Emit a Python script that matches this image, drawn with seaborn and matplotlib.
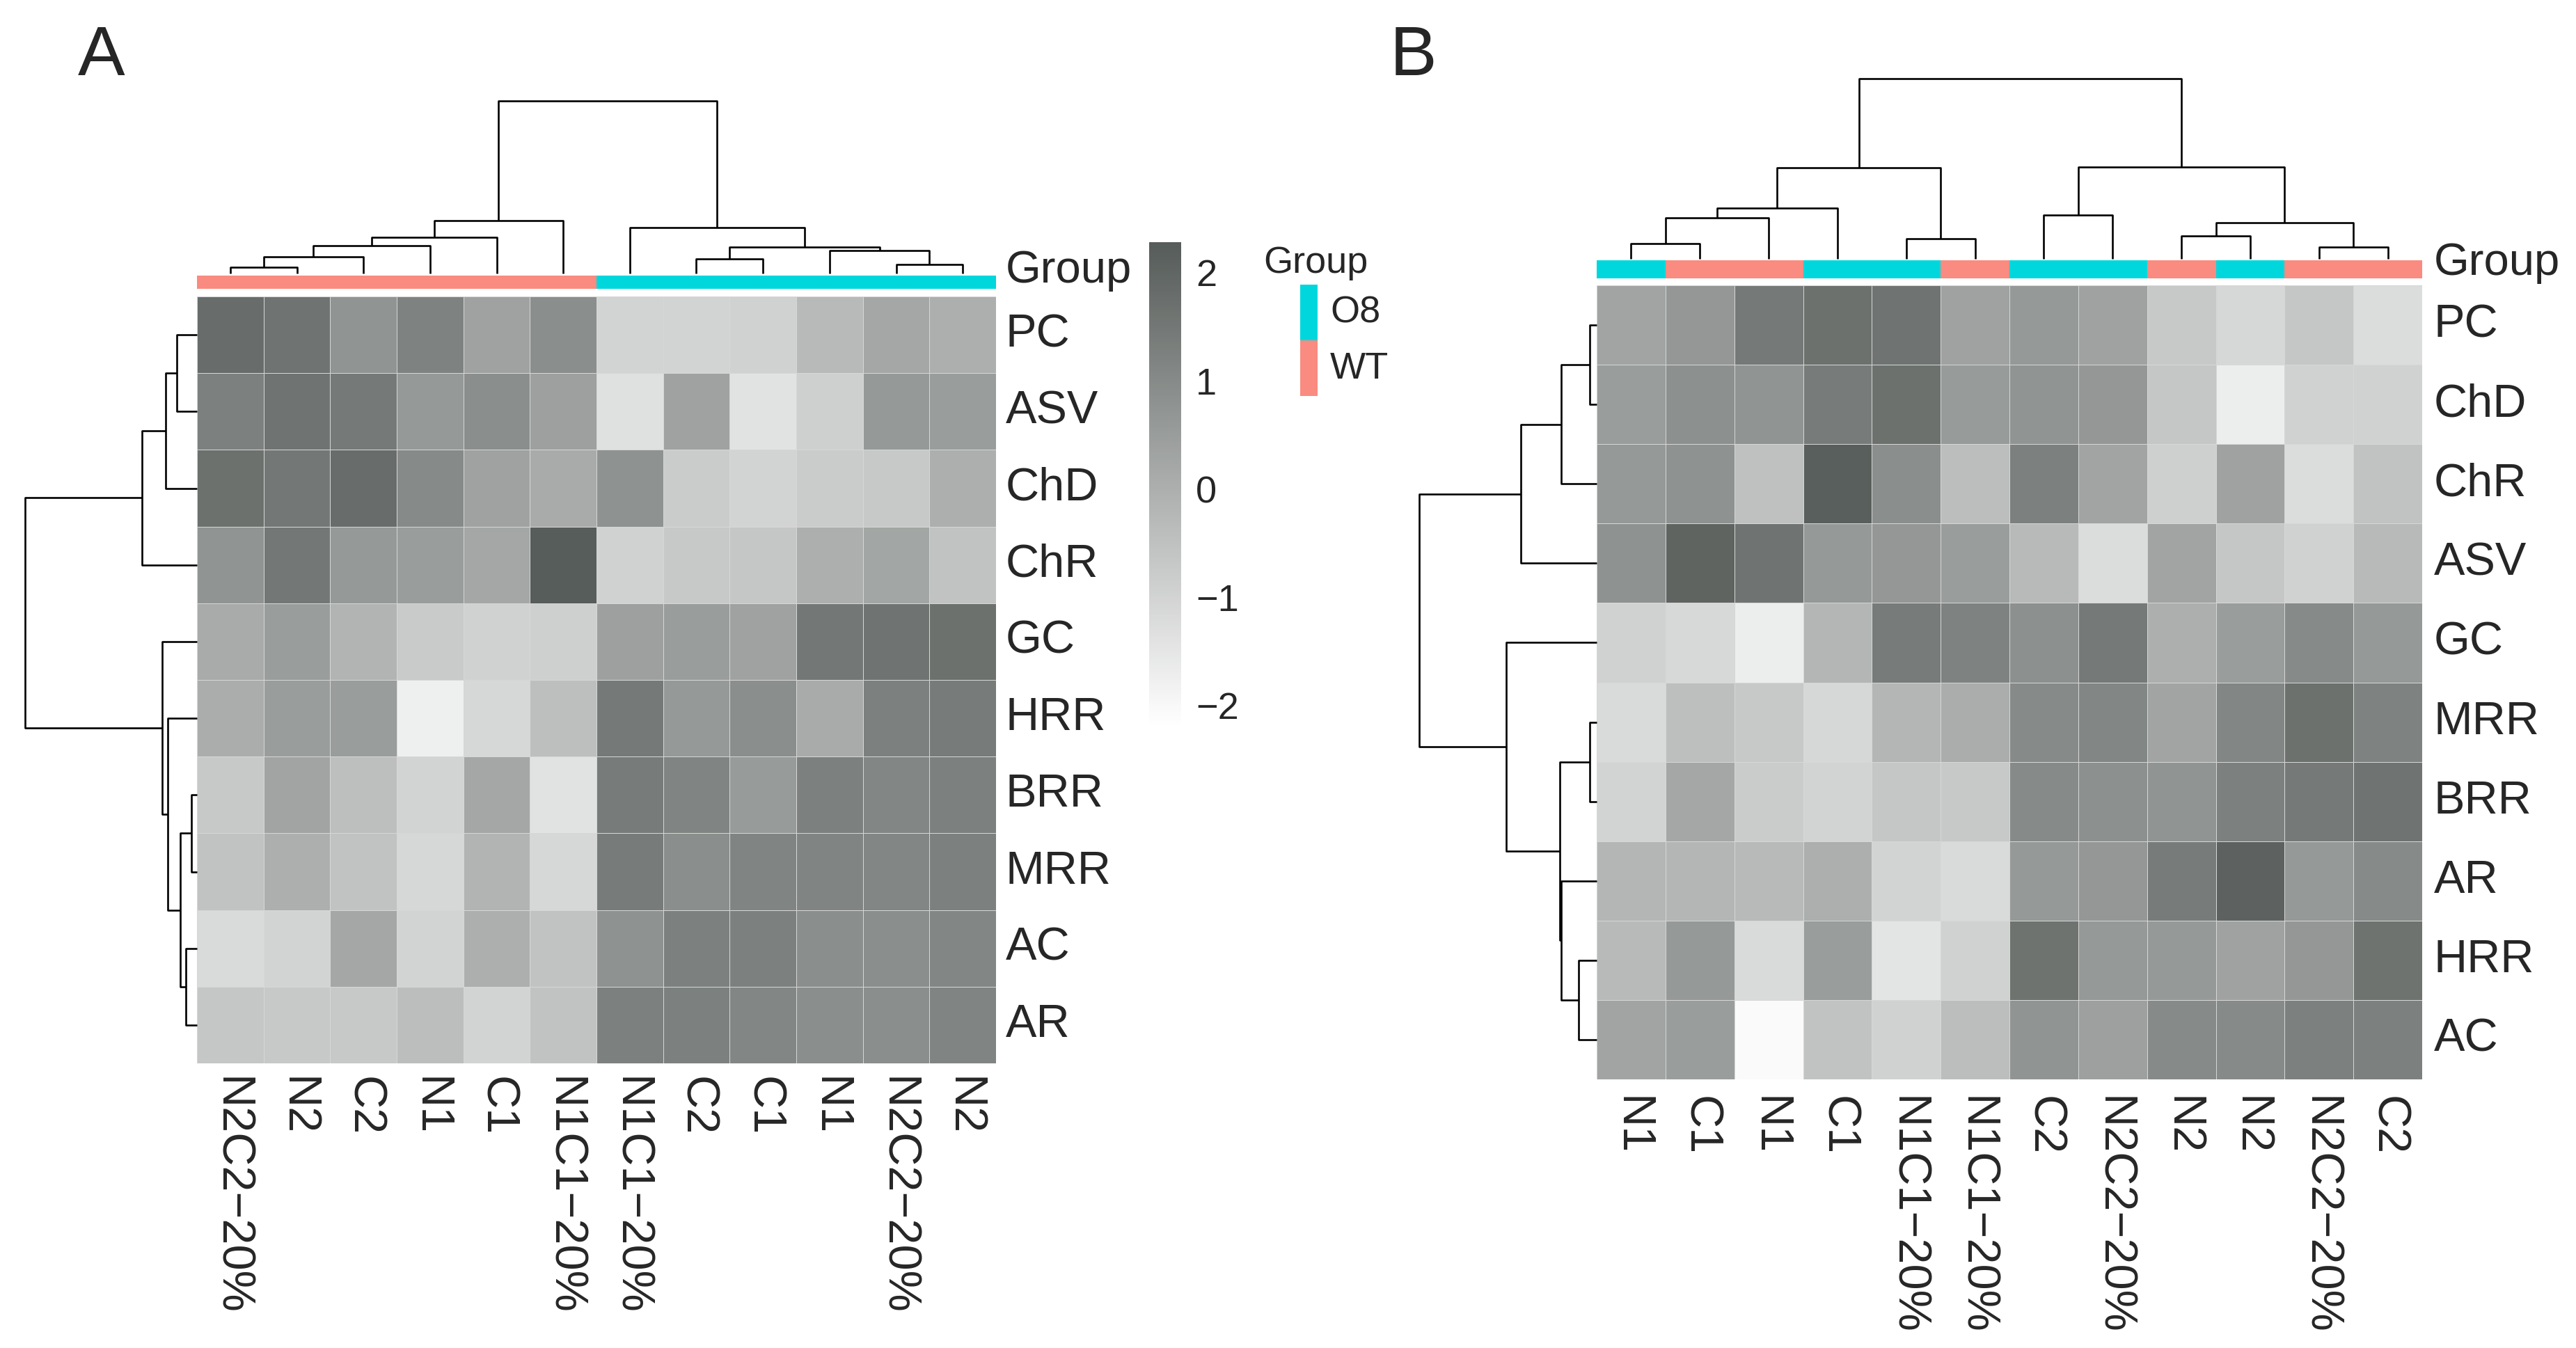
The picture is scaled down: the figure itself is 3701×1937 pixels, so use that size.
import numpy as np
import matplotlib
matplotlib.use("Agg")
import matplotlib.pyplot as plt
import seaborn as sns
from matplotlib.colors import LinearSegmentedColormap, ListedColormap

sns.set_style("white")
plt.rcParams['font.family'] = ['Liberation Sans', 'DejaVu Sans']

# ---------------- data: panel A ----------------
a_rows = ["PC", "ASV", "ChD", "ChR", "GC", "HRR", "BRR", "MRR", "AC", "AR"]
a_cols = ["N2C2\u221220%", "N2", "C2", "N1", "C1", "N1C1\u221220%",
          "N1C1\u221220%", "C2", "C1", "N1", "N2C2\u221220%", "N2"]
a_groups = ["WT", "WT", "WT", "WT", "WT", "WT", "O8", "O8", "O8", "O8", "O8", "O8"]
a_PC  = [1.8, 1.6, 0.75, 1.2, 0.35, 0.9, -1.0, -1.0, -0.95, -0.3, 0.2, 0.0]
a_ASV = [1.25, 1.6, 1.45, 0.6, 0.9, 0.4, -1.35, 0.35, -1.4, -0.9, 0.6, 0.5]
a_ChD = [1.7, 1.5, 1.8, 1.0, 0.35, 0.1, 0.8, -0.8, -1.0, -0.8, -0.7, 0.0]
a_ChR = [0.75, 1.5, 0.6, 0.5, 0.2, 2.25, -0.95, -0.7, -0.65, 0.0, 0.25, -0.55]
a_GC  = [0.1, 0.5, -0.15, -0.75, -0.95, -0.9, 0.4, 0.5, 0.35, 1.5, 1.6, 1.7]
a_HRR = [0.05, 0.5, 0.5, -1.75, -1.1, -0.45, 1.45, 0.6, 0.9, 0.1, 1.25, 1.4]
a_BRR = [-0.7, 0.3, -0.45, -1.0, 0.2, -1.4, 1.4, 1.15, 0.55, 1.25, 1.1, 1.25]
a_MRR = [-0.55, 0.0, -0.55, -1.1, -0.15, -1.1, 1.4, 0.9, 1.15, 1.15, 1.1, 1.25]
a_AC  = [-1.2, -1.0, 0.2, -1.0, 0.0, -0.55, 0.8, 1.25, 1.25, 0.9, 0.9, 1.1]
a_AR  = [-0.65, -0.7, -0.7, -0.4, -1.0, -0.55, 1.25, 1.25, 1.1, 0.9, 0.9, 1.15]
# dendrogram merges: (child, child, height); ids >= n are earlier merges
a_col_merges = [(0, 1, 26), (12, 2, 73), (13, 3, 121), (14, 4, 156), (15, 5, 228),
                (10, 11, 40), (9, 17, 98), (7, 8, 63), (19, 18, 113), (6, 20, 198),
                (16, 21, 743)]
a_row_merges = [(0, 1, 86), (10, 2, 135), (11, 3, 238), (6, 7, 25), (8, 9, 48),
                (13, 14, 73), (5, 15, 128), (4, 16, 150), (12, 17, 745)]

# ---------------- data: panel B ----------------
b_rows = ["PC", "ChD", "ChR", "ASV", "GC", "MRR", "BRR", "AR", "HRR", "AC"]
b_cols = ["N1", "C1", "N1", "C1", "N1C1\u221220%", "N1C1\u221220%", "C2",
          "N2C2\u221220%", "N2", "N2", "N2C2\u221220%", "C2"]
b_groups = ["O8", "WT", "WT", "O8", "O8", "WT", "O8", "O8", "WT", "O8", "WT", "WT"]
b_PC  = [0.3, 0.65, 1.45, 1.7, 1.6, 0.35, 0.6, 0.35, -0.7, -1.1, -0.65, -1.25]
b_ChD = [0.5, 0.85, 0.75, 1.4, 1.7, 0.55, 0.75, 0.65, -0.65, -1.7, -0.95, -0.95]
b_ChR = [0.6, 0.8, -0.5, 2.2, 0.9, -0.4, 1.25, 0.3, -0.9, 0.35, -1.25, -0.55]
b_ASV = [0.8, 2.05, 1.6, 0.6, 0.65, 0.5, -0.3, -1.25, 0.3, -0.65, -0.95, -0.3]
b_GC  = [-0.95, -1.15, -1.7, -0.2, 1.4, 1.2, 0.85, 1.45, 0.0, 0.5, 1.0, 0.6]
b_MRR = [-1.2, -0.45, -0.7, -1.1, -0.2, 0.05, 1.0, 1.1, 0.3, 1.1, 1.7, 1.2]
b_BRR = [-1.0, 0.2, -0.8, -1.0, -0.65, -0.7, 1.0, 0.85, 0.75, 1.25, 1.45, 1.6]
b_AR  = [-0.2, -0.2, -0.3, 0.0, -1.0, -1.2, 0.6, 0.65, 1.4, 2.1, 0.6, 1.0]
b_HRR = [-0.3, 0.6, -1.2, 0.5, -1.45, -0.95, 1.65, 0.6, 0.6, 0.35, 0.65, 1.65]
b_AC  = [0.3, 0.5, -2.05, -0.55, -0.95, -0.4, 0.75, 0.4, 1.0, 1.0, 1.25, 1.25]
b_col_merges = [(0, 1, 67), (12, 2, 177), (13, 3, 217), (4, 5, 88), (14, 15, 393),
                (6, 7, 190), (8, 9, 100), (10, 11, 50), (18, 19, 155), (17, 20, 395),
                (16, 21, 775)]
b_row_merges = [(0, 1, 29), (10, 2, 152), (11, 3, 327), (5, 6, 29), (8, 9, 77),
                (7, 14, 154), (13, 15, 159), (4, 16, 389), (12, 17, 765)]

group_levels = ["O8", "WT"]
group_colors = ["#00D7DD", "#F98B80"]
cbar_ticks = [-2, -1, 0, 1, 2]

a_values = np.array([a_PC, a_ASV, a_ChD, a_ChR, a_GC, a_HRR, a_BRR, a_MRR, a_AC, a_AR])
b_values = np.array([b_PC, b_ChD, b_ChR, b_ASV, b_GC, b_MRR, b_BRR, b_AR, b_HRR, b_AC])

# ---------------- styling ----------------
W, H = 3701, 1937
DPI = 100
cmap = LinearSegmentedColormap.from_list("grey", ["#FFFFFF", "#565C59"])
gcmap = ListedColormap(group_colors)
VMIN, VMAX = -2.2, 2.28


def box(x0, y0, x1, y1):
    return [x0 / W, 1 - y1 / H, (x1 - x0) / W, (y1 - y0) / H]


def draw_dendro(ax, n, merges, orient):
    pos = {i: i + 0.5 for i in range(n)}
    hgt = {i: 0.0 for i in range(n)}
    root = 0
    for k, (a, b, h) in enumerate(merges):
        xs = [pos[a], pos[a], pos[b], pos[b]]
        ys = [hgt[a], h, h, hgt[b]]
        if orient == "top":
            ax.plot(xs, ys, color="black", lw=1.9, clip_on=False, solid_capstyle="butt")
        else:
            ax.plot(ys, xs, color="black", lw=1.9, clip_on=False, solid_capstyle="butt")
        pos[n + k] = (pos[a] + pos[b]) / 2
        hgt[n + k] = h
        root = max(root, h)
    if orient == "top":
        ax.set_xlim(0, n)
        ax.set_ylim(0, root)
    else:
        ax.set_ylim(n, 0)
        ax.set_xlim(root, 0)
    ax.axis("off")


def panel(fig, values, rows, cols, groups, col_merges, row_merges,
          hm_box, grp_box, cd_box, rd_box, label_pad_x, label_pad_y,
          group_text_xy, cbar_box=None):
    ax = fig.add_axes(box(*hm_box))
    kws = dict(cmap=cmap, vmin=VMIN, vmax=VMAX, linewidths=0.6, linecolor="#d6d6d6",
               xticklabels=cols, yticklabels=rows, square=False)
    if cbar_box is not None:
        cax = fig.add_axes(box(*cbar_box))
        sns.heatmap(values, ax=ax, cbar=True, cbar_ax=cax,
                    cbar_kws={"ticks": cbar_ticks}, **kws)
        cb = ax.collections[0].colorbar
        cb.outline.set_visible(False)
        cax.tick_params(length=0, labelsize=39, pad=15)
    else:
        sns.heatmap(values, ax=ax, cbar=False, **kws)
    ax.yaxis.tick_right()
    ax.tick_params(axis="x", length=0, pad=label_pad_x, labelsize=48)
    ax.tick_params(axis="y", length=0, pad=label_pad_y, labelsize=48)
    plt.setp(ax.get_xticklabels(), rotation=270, ha="center", va="top")
    plt.setp(ax.get_yticklabels(), rotation=0, ha="left", va="center")

    gax = fig.add_axes(box(*grp_box))
    codes = np.array([[group_levels.index(g) for g in groups]])
    sns.heatmap(codes, ax=gax, cmap=gcmap, vmin=-0.5, vmax=1.5, cbar=False,
                xticklabels=False, yticklabels=False)
    fig.text(group_text_xy[0] / W, 1 - group_text_xy[1] / H, "Group",
             fontsize=47, va="baseline", ha="left")

    cdax = fig.add_axes(box(*cd_box))
    draw_dendro(cdax, len(cols), col_merges, "top")
    rdax = fig.add_axes(box(*rd_box))
    draw_dendro(rdax, len(rows), row_merges, "left")


fig = plt.figure(figsize=(W / DPI, H / DPI), dpi=DPI)

panel(fig, a_values, a_rows, a_cols, a_groups, a_col_merges, a_row_merges,
      hm_box=(283, 426, 1431, 1528), grp_box=(283, 396, 1431, 415),
      cd_box=(283, 145, 1431, 393), rd_box=(36, 426, 283, 1528),
      label_pad_x=14, label_pad_y=10, group_text_xy=(1445, 406),
      cbar_box=(1651, 348, 1697, 1045))

panel(fig, b_values, b_rows, b_cols, b_groups, b_col_merges, b_row_merges,
      hm_box=(2294, 410, 3480, 1551), grp_box=(2294, 374, 3480, 400),
      cd_box=(2294, 113, 3480, 372), rd_box=(2039, 410, 2294, 1551),
      label_pad_x=17, label_pad_y=12, group_text_xy=(3497, 395))

# group legend (panel A)
lax = fig.add_axes(box(1868, 409, 1893, 569))
sns.heatmap(np.array([[0], [1]]), ax=lax, cmap=gcmap, vmin=-0.5, vmax=1.5,
            cbar=False, xticklabels=False, yticklabels=False)
fig.text(1815 / W, 1 - 392 / H, "Group", fontsize=39, va="baseline", ha="left")
for lvl, yc in zip(group_levels, [450, 530]):
    fig.text(1911 / W, 1 - yc / H, lvl, fontsize=39, va="center", ha="left")

# panel letters
fig.text(112 / W, 1 - 108 / H, "A", fontsize=73, va="baseline", ha="left")
fig.text(1997 / W, 1 - 108 / H, "B", fontsize=73, va="baseline", ha="left")

fig.savefig("out.png", dpi=DPI, facecolor="white")
